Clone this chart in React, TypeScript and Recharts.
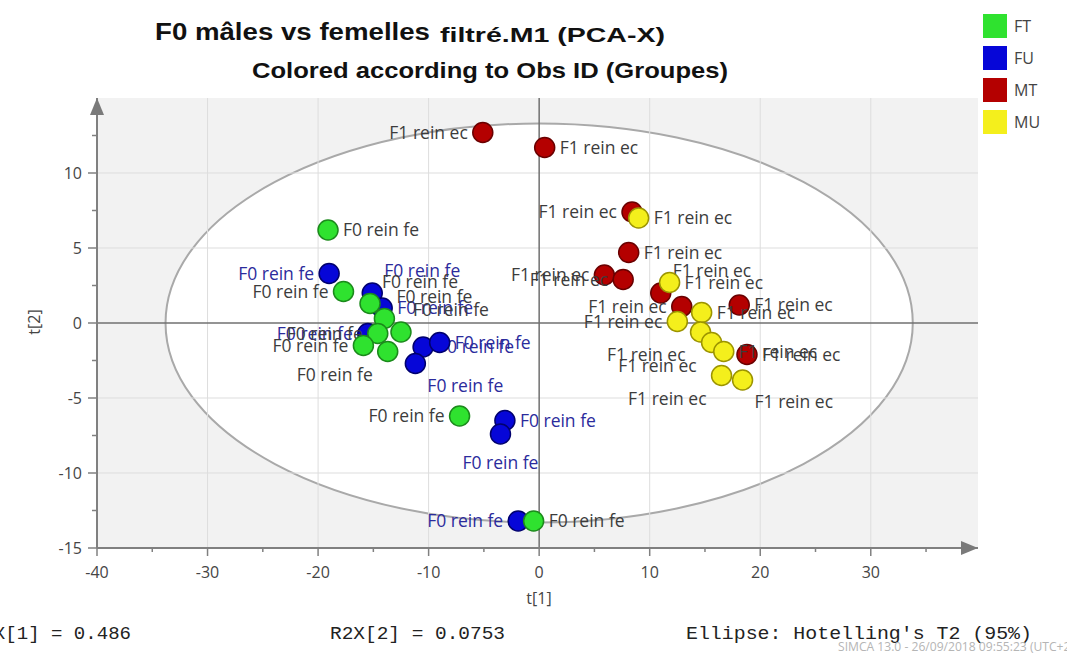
import { ScatterChart, Scatter, XAxis, YAxis, ReferenceLine, ReferenceArea, ReferenceDot } from 'recharts'

// scores t[1] / t[2]
const FT_X = [-19.1, -17.7, -15.3, -14.0, -14.6, -12.5, -15.9, -13.7, -7.2, -0.5]
const FT_Y = [6.2, 2.1, 1.3, 0.3, -0.7, -0.6, -1.5, -1.9, -6.2, -13.2]
const FU_X = [-19.0, -15.1, -14.2, -15.5, -10.5, -9.0, -11.2, -3.1, -3.5, -1.9]
const FU_Y = [3.3, 2.0, 1.0, -0.7, -1.6, -1.3, -2.7, -6.5, -7.4, -13.2]
const MT_X = [-5.1, 0.5, 8.4, 8.1, 5.9, 7.6, 11.0, 12.9, 18.1, 18.8]
const MT_Y = [12.7, 11.7, 7.4, 4.7, 3.2, 2.9, 2.0, 1.1, 1.2, -2.1]
const MU_X = [9.0, 11.8, 14.7, 12.5, 14.6, 15.6, 16.7, 16.5, 18.4]
const MU_Y = [7.0, 2.7, 0.7, 0.1, -0.6, -1.3, -1.9, -3.5, -3.8]

const LABEL_F0 = 'F0 rein fe'
const LABEL_F1 = 'F1 rein ec'

const X_TICKS = [-40, -35, -30, -25, -20, -15, -10, -5, 0, 5, 10, 15, 20, 25, 30, 35]
const Y_TICKS = [-15, -12.5, -10, -7.5, -5, -2.5, 0, 2.5, 5, 7.5, 10, 12.5]
const X_DOMAIN = [-40, 39.7]
const Y_DOMAIN = [-15, 15]

// Hotelling T2 (95%) ellipse half-axes
const ELLIPSE_A = 33.8
const ELLIPSE_B = 13.3

// where each point's label sits (layout only)
const FT_SIDE = ['r', 'l', 'tr', 'tr', 'l', 'tr', 'l', 'bl', 'l', 'r']
const FU_SIDE = ['l', 'tr', 'r', 'l', 'r', 'r', 'br', 'r', 'b', 'l']
const MT_SIDE = ['l', 'r', 'l', 'r', 'l', 'l', 'tr', 'l', 'r', 'r']
const MU_SIDE = ['r', 'r', 'r', 'l', 'bl', 'bl', 'r', 'bl', 'br']

const build = (xs: number[], ys: number[], sides: string[]) =>
  xs.map((x, i) => ({ x, y: ys[i], side: sides[i] }))

const GROUPS = [
  { name: 'FU', data: build(FU_X, FU_Y, FU_SIDE), fill: '#0606d8', stroke: '#00006e', label: LABEL_F0, labelColor: '#2b2b9c' },
  { name: 'FT', data: build(FT_X, FT_Y, FT_SIDE), fill: '#2fe22f', stroke: '#1b8a1b', label: LABEL_F0, labelColor: '#3c3c3c' },
  { name: 'MT', data: build(MT_X, MT_Y, MT_SIDE), fill: '#b40000', stroke: '#6a0000', label: LABEL_F1, labelColor: '#3c3c3c' },
  { name: 'MU', data: build(MU_X, MU_Y, MU_SIDE), fill: '#f4ef1c', stroke: '#9c9400', label: LABEL_F1, labelColor: '#3c3c3c' },
]
const LEGEND_ORDER = ['FT', 'FU', 'MT', 'MU']

const FONT = '"Open Sans", "DejaVu Sans", sans-serif'

function labelPos(side: string, cx: number, cy: number) {
  switch (side) {
    case 'l': return { x: cx - 15, y: cy + 6, anchor: 'end' }
    case 'tr': return { x: cx + 12, y: cy - 16, anchor: 'start' }
    case 'br': return { x: cx + 12, y: cy + 28, anchor: 'start' }
    case 'bl': return { x: cx - 15, y: cy + 29, anchor: 'end' }
    case 'b': return { x: cx, y: cy + 35, anchor: 'middle' }
    default: return { x: cx + 15, y: cy + 6, anchor: 'start' }
  }
}

const makeShape = (g: typeof GROUPS[number]) => (props: any) => {
  const { cx, cy, payload } = props
  const p = labelPos(payload.side, cx, cy)
  return (
    <g>
      <circle cx={cx} cy={cy} r={10} fill={g.fill} stroke={g.stroke} strokeWidth={1.5} />
      <text x={p.x} y={p.y} textAnchor={p.anchor as any} fontSize={17.5} fontFamily={FONT} fill={g.labelColor}>
        {g.label}
      </text>
    </g>
  )
}

const XTick = (props: any) => {
  const { x, y, payload } = props
  const major = payload.value % 10 === 0
  return (
    <g>
      <line x1={x} y1={y} x2={x} y2={y + (major ? 8 : 4)} stroke="#808080" strokeWidth={1.5} />
      {major && (
        <text x={x} y={y + 30} textAnchor="middle" fontSize={16} fontFamily={FONT} fill="#454545">
          {payload.value}
        </text>
      )}
    </g>
  )
}

const YTick = (props: any) => {
  const { x, y, payload } = props
  const major = payload.value % 5 === 0
  return (
    <g>
      <line x1={x} y1={y} x2={x - (major ? 9 : 5)} y2={y} stroke="#808080" strokeWidth={1.5} />
      {major && (
        <text x={x - 15} y={y + 6} textAnchor="end" fontSize={16} fontFamily={FONT} fill="#454545">
          {payload.value}
        </text>
      )}
    </g>
  )
}

export default function App() {
  return (
    <div style={{ position: 'absolute', left: 0, top: 0, width: 1067, height: 655, background: '#fff' }}>
      <ScatterChart width={1067} height={655} margin={{ top: 98, right: 89, bottom: 67, left: 57 }}>
        <XAxis
          type="number"
          dataKey="x"
          domain={X_DOMAIN}
          ticks={X_TICKS}
          interval={0}
          allowDataOverflow
          height={40}
          tickSize={0}
          tickMargin={0}
          tick={<XTick />}
          axisLine={{ stroke: '#808080', strokeWidth: 2 }}
        />
        <YAxis
          type="number"
          dataKey="y"
          domain={Y_DOMAIN}
          ticks={Y_TICKS}
          interval={0}
          allowDataOverflow
          width={40}
          tickSize={0}
          tickMargin={0}
          tick={<YTick />}
          axisLine={{ stroke: '#808080', strokeWidth: 2 }}
        />
        <ReferenceArea x1={X_DOMAIN[0]} x2={X_DOMAIN[1]} y1={Y_DOMAIN[0]} y2={Y_DOMAIN[1]} fill="#f2f2f2" fillOpacity={1} stroke="none" />
        <ReferenceArea
          x1={-ELLIPSE_A}
          x2={ELLIPSE_A}
          y1={-ELLIPSE_B}
          y2={ELLIPSE_B}
          shape={(p: any) => (
            <ellipse
              cx={p.x + p.width / 2}
              cy={p.y + p.height / 2}
              rx={Math.abs(p.width) / 2}
              ry={Math.abs(p.height) / 2}
              fill="#ffffff"
              stroke="#a9a9a9"
              strokeWidth={2}
            />
          )}
        />
        {X_TICKS.filter((t) => t % 10 === 0 && t !== 0 && t !== X_DOMAIN[0]).map((t) => (
          <ReferenceLine key={'gx' + t} x={t} stroke="#dddddd" strokeWidth={1} />
        ))}
        {Y_TICKS.filter((t) => t % 5 === 0 && t !== 0 && t !== Y_DOMAIN[0]).map((t) => (
          <ReferenceLine key={'gy' + t} y={t} stroke="#dddddd" strokeWidth={1} />
        ))}
        <ReferenceLine x={0} stroke="#707070" strokeWidth={1.5} />
        <ReferenceLine y={0} stroke="#707070" strokeWidth={1.5} />
        <ReferenceDot
          x={X_DOMAIN[0]}
          y={Y_DOMAIN[1]}
          ifOverflow="visible"
          shape={(p: any) => <polygon points={`${p.cx},${p.cy} ${p.cx - 7},${p.cy + 17} ${p.cx + 7},${p.cy + 17}`} fill="#7a7a7a" />}
        />
        <ReferenceDot
          x={X_DOMAIN[1]}
          y={Y_DOMAIN[0]}
          ifOverflow="visible"
          shape={(p: any) => <polygon points={`${p.cx},${p.cy} ${p.cx - 17},${p.cy - 7} ${p.cx - 17},${p.cy + 7}`} fill="#7a7a7a" />}
        />
        {GROUPS.map((g) => (
          <Scatter key={g.name} name={g.name} data={g.data} fill={g.fill} shape={makeShape(g)} isAnimationActive={false} />
        ))}
      </ScatterChart>

      <svg width={1067} height={655} style={{ position: 'absolute', left: 0, top: 0, pointerEvents: 'none' }}>
        <g fontFamily='"Liberation Sans", Arial, sans-serif' fontWeight="bold" fill="#111">
          <text x={155} y={40} fontSize={23} textLength={275} lengthAdjust="spacingAndGlyphs">F0 mâles vs femelles</text>
          <text x={440} y={42} fontSize={21} textLength={225} lengthAdjust="spacingAndGlyphs">filtré.M1 (PCA-X)</text>
          <text x={252} y={78} fontSize={22} textLength={476} lengthAdjust="spacingAndGlyphs">Colored according to Obs ID (Groupes)</text>
        </g>
        {LEGEND_ORDER.map((n, i) => {
          const g = GROUPS.find((x) => x.name === n)!
          return (
            <g key={n}>
              <rect x={983} y={14 + i * 32} width={24} height={24} fill={g.fill} />
              <text x={1014} y={32 + i * 32} fontSize={16} fontFamily={FONT} fill="#444">{n}</text>
            </g>
          )
        })}
        <text x={539} y={604} textAnchor="middle" fontSize={16} fontFamily={FONT} fill="#454545">t[1]</text>
        <text x={40} y={322} textAnchor="middle" fontSize={16} fontFamily={FONT} fill="#454545" transform="rotate(-90 40 322)">t[2]</text>
        <g fontFamily='"Liberation Mono", "DejaVu Sans Mono", monospace' fontSize={18} fill="#222">
          <text x={-29} y={639} textLength={160} lengthAdjust="spacingAndGlyphs">R2X[1] = 0.486</text>
          <text x={330} y={639} textLength={175} lengthAdjust="spacingAndGlyphs">R2X[2] = 0.0753</text>
          <text x={686} y={639} textLength={346} lengthAdjust="spacingAndGlyphs">Ellipse: Hotelling's T2 (95%)</text>
        </g>
        <text x={838} y={651} fontSize={13} fontFamily={FONT} fill="#b5b5b5" textLength={236} lengthAdjust="spacingAndGlyphs">
          SIMCA 13.0 - 26/09/2018 09:55:23 (UTC+2)
        </text>
      </svg>
    </div>
  )
}
